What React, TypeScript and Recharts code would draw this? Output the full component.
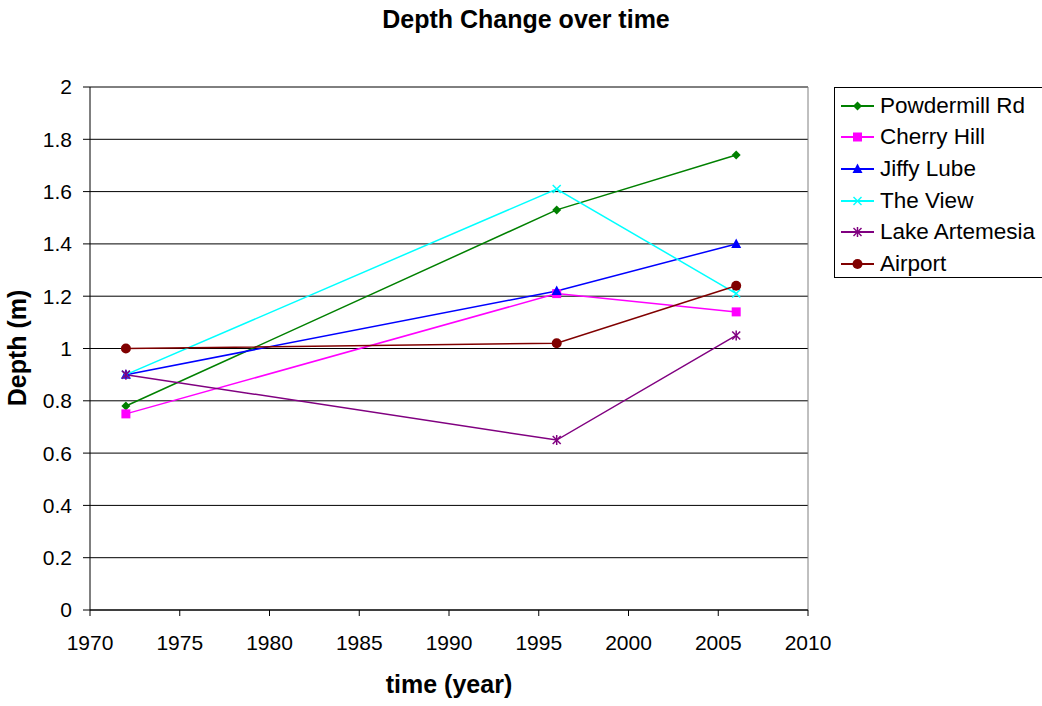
import { LineChart, Line, XAxis, YAxis, CartesianGrid, ReferenceLine, Label } from "recharts";

const years = [1972, 1996, 2006];
const powdermill = [0.78, 1.53, 1.74];
const cherryHill = [0.75, 1.21, 1.14];
const jiffyLube = [0.9, 1.22, 1.4];
const theView = [0.9, 1.61, 1.21];
const lakeArtemesia = [0.9, 0.65, 1.05];
const airport = [1.0, 1.02, 1.24];

const xTicks = [1970, 1975, 1980, 1985, 1990, 1995, 2000, 2005, 2010];
const yTicks = [0, 0.2, 0.4, 0.6, 0.8, 1, 1.2, 1.4, 1.6, 1.8, 2];

const series = [
  { key: "powdermill", name: "Powdermill Rd", color: "#008000", shape: "diamond", values: powdermill },
  { key: "cherryHill", name: "Cherry Hill", color: "#FF00FF", shape: "square", values: cherryHill },
  { key: "jiffyLube", name: "Jiffy Lube", color: "#0000FF", shape: "triangle", values: jiffyLube },
  { key: "theView", name: "The View", color: "#00FFFF", shape: "x", values: theView },
  { key: "lakeArtemesia", name: "Lake Artemesia", color: "#800080", shape: "star", values: lakeArtemesia },
  { key: "airport", name: "Airport", color: "#800000", shape: "circle", values: airport },
];

const data = years.map((year, i) => {
  const row: Record<string, number> = { year };
  series.forEach((s) => (row[s.key] = s.values[i]));
  return row;
});

const FONT = "'Liberation Sans', Arial, sans-serif";

function Marker({ cx, cy, shape, color }: { cx: number; cy: number; shape: string; color: string }) {
  if (cx == null || cy == null) return null;
  switch (shape) {
    case "diamond":
      return <polygon points={`${cx},${cy - 4.5} ${cx + 4.5},${cy} ${cx},${cy + 4.5} ${cx - 4.5},${cy}`} fill={color} />;
    case "square":
      return <rect x={cx - 4.5} y={cy - 4.5} width={9} height={9} fill={color} />;
    case "triangle":
      return <polygon points={`${cx},${cy - 5.5} ${cx + 5},${cy + 4} ${cx - 5},${cy + 4}`} fill={color} />;
    case "x":
      return (
        <g stroke={color} strokeWidth={1.5}>
          <line x1={cx - 4} y1={cy - 4} x2={cx + 4} y2={cy + 4} />
          <line x1={cx - 4} y1={cy + 4} x2={cx + 4} y2={cy - 4} />
        </g>
      );
    case "star":
      return (
        <g stroke={color} strokeWidth={1.5}>
          <line x1={cx - 4} y1={cy - 4} x2={cx + 4} y2={cy + 4} />
          <line x1={cx - 4} y1={cy + 4} x2={cx + 4} y2={cy - 4} />
          <line x1={cx} y1={cy - 5} x2={cx} y2={cy + 5} />
        </g>
      );
    default:
      return <circle cx={cx} cy={cy} r={5} fill={color} />;
  }
}

function LegendBox() {
  return (
    <div
      style={{
        position: "absolute",
        left: 834,
        top: 87,
        width: 212,
        height: 191,
        border: "1px solid #000",
        boxSizing: "border-box",
        background: "#fff",
        fontFamily: FONT,
        fontSize: 22.5,
        paddingTop: 2,
      }}
    >
      {series.map((s) => (
        <div key={s.key} style={{ display: "flex", alignItems: "center", height: 31.6 }}>
          <svg width={39} height={20} style={{ marginLeft: 6, flex: "none" }}>
            <line x1={0} y1={10} x2={33} y2={10} stroke={s.color} strokeWidth={2} />
            <Marker cx={16.5} cy={10} shape={s.shape} color={s.color} />
          </svg>
          <span style={{ color: "#000", whiteSpace: "nowrap" }}>{s.name}</span>
        </div>
      ))}
    </div>
  );
}

export default function App() {
  return (
    <div style={{ position: "absolute", left: 0, top: 0, width: 1042, height: 706, background: "#fff", overflow: "hidden" }}>
      <div
        style={{
          position: "absolute",
          top: 4,
          left: 226,
          width: 600,
          textAlign: "center",
          fontFamily: FONT,
          fontWeight: "bold",
          fontSize: 25,
          lineHeight: "30px",
        }}
      >
        Depth Change over time
      </div>
      <LineChart
        width={1042}
        height={706}
        data={data}
        margin={{ top: 87, left: 30, right: 234, bottom: 56 }}
        style={{ fontFamily: FONT }}
      >
        <CartesianGrid vertical={false} stroke="#000" strokeWidth={1} />
        <XAxis
          dataKey="year"
          type="number"
          domain={[1970, 2010]}
          ticks={xTicks}
          height={40}
          interval={0}
          stroke="#000"
          tickSize={6}
          tickMargin={19}
          tick={{ fill: "#000", fontSize: 21 }}
        >
          <Label
            content={() => (
              <text x={449} y={693} textAnchor="middle" fontSize={25} fontWeight="bold" fill="#000" fontFamily={FONT}>
                time (year)
              </text>
            )}
          />
        </XAxis>
        <YAxis
          type="number"
          domain={[0, 2]}
          ticks={yTicks}
          width={60}
          interval={0}
          stroke="#000"
          tickSize={7}
          tickMargin={11}
          tick={{ fill: "#000", fontSize: 21 }}
        >
          <Label
            content={() => (
              <text
                x={26}
                y={348}
                transform="rotate(-90 26 348)"
                textAnchor="middle"
                fontSize={25}
                fontWeight="bold"
                fill="#000"
                fontFamily={FONT}
              >
                Depth (m)
              </text>
            )}
          />
        </YAxis>
        <ReferenceLine x={2010} stroke="#808080" />
        {series.map((s) => (
          <Line
            key={s.key}
            dataKey={s.key}
            name={s.name}
            stroke={s.color}
            strokeWidth={1.5}
            isAnimationActive={false}
            dot={(p: any) => <Marker key={`${s.key}-${p.index}`} cx={p.cx} cy={p.cy} shape={s.shape} color={s.color} />}
            activeDot={false}
          />
        ))}
      </LineChart>
      <LegendBox />
    </div>
  );
}
